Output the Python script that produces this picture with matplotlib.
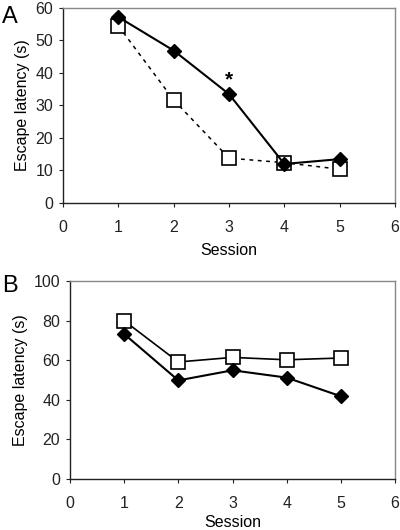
import matplotlib
matplotlib.use("Agg")
import matplotlib.pyplot as plt

plt.rcParams['font.family'] = ['Liberation Sans', 'DejaVu Sans']

sessions = [1, 2, 3, 4, 5]
a_filled = [57.2, 46.9, 33.5, 12.0, 13.5]
a_open = [54.5, 31.7, 13.8, 12.4, 10.4]
b_filled = [73.2, 49.8, 54.9, 51.2, 41.8]
b_open = [79.9, 59.1, 61.4, 60.2, 61.1]
x_ticks = [0, 1, 2, 3, 4, 5, 6]
a_yticks = [0, 10, 20, 30, 40, 50, 60]
b_yticks = [0, 20, 40, 60, 80, 100]

fig = plt.figure(figsize=(4, 5.3), dpi=100)
axA = fig.add_axes([0.1575, 0.617, 0.83, 0.368])
axB = fig.add_axes([0.175, 0.096, 0.8125, 0.374])

def style(ax, yticks, xpad, xlabelpad):
    ax.set_xlim(0, 6)
    ax.set_ylim(yticks[0], yticks[-1])
    ax.set_xticks(x_ticks)
    ax.set_yticks(yticks)
    for s in ['left', 'bottom']:
        ax.spines[s].set_color('#222222')
        ax.spines[s].set_linewidth(1.0)
    for s in ['top', 'right']:
        ax.spines[s].set_color('#888888')
        ax.spines[s].set_linewidth(1.0)
    ax.tick_params(direction='out', length=3, width=0.8, labelsize=11.5,
                   colors='#222222', pad=4)
    ax.tick_params(axis='x', pad=xpad)
    ax.set_xlabel('Session', fontsize=11.5, labelpad=xlabelpad)
    ax.set_ylabel('Escape latency (s)', fontsize=11.5, labelpad=4)

# Panel A
axA.plot(sessions, a_open, linestyle=(0, (2.5, 3)), color='black', lw=1.1,
         marker='s', markersize=9.5, markerfacecolor='white',
         markeredgecolor='black', markeredgewidth=1.2, zorder=3)
axA.plot(sessions, a_filled, linestyle='-', color='black', lw=1.5,
         marker='D', markersize=7.5, markerfacecolor='black',
         markeredgecolor='black', zorder=4)
axA.text(3, a_filled[2] + 4.5, '*', ha='center', va='center', fontsize=15,
         fontweight='bold')
style(axA, a_yticks, 9, 6)
fig.text(0.005, 0.957, 'A', fontsize=17)

# Panel B
axB.plot(sessions, b_filled, linestyle='-', color='black', lw=1.5,
         marker='D', markersize=7.5, markerfacecolor='black',
         markeredgecolor='black', zorder=4)
axB.plot(sessions, b_open, linestyle='-', color='black', lw=1.2,
         marker='s', markersize=9.5, markerfacecolor='white',
         markeredgecolor='black', markeredgewidth=1.2, zorder=3)
style(axB, b_yticks, 9, 3)
fig.text(0.005, 0.45, 'B', fontsize=17)

fig.savefig('out.png', dpi=100)
